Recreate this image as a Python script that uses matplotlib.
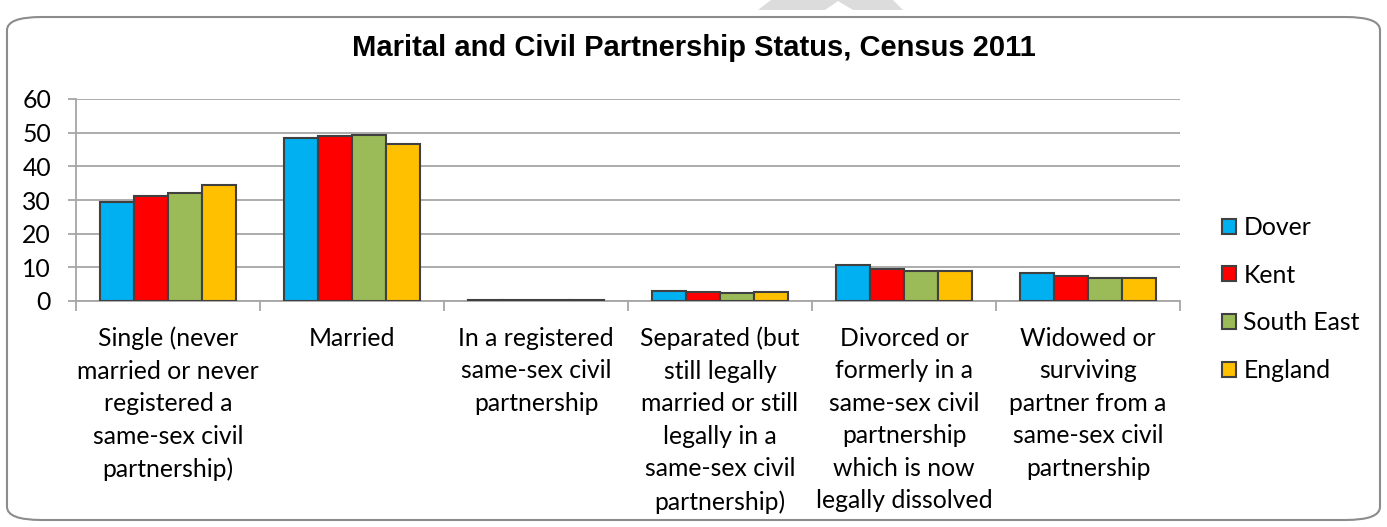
import numpy as np
import matplotlib.pyplot as plt
from matplotlib.patches import FancyBboxPatch, Polygon

categories = [
    "Single (never\nmarried or never\nregistered a\nsame-sex civil\npartnership)",
    "Married",
    "In a registered\nsame-sex civil\npartnership",
    "Separated (but\nstill legally\nmarried or still\nlegally in a\nsame-sex civil\npartnership)",
    "Divorced or\nformerly in a\nsame-sex civil\npartnership\nwhich is now\nlegally dissolved",
    "Widowed or\nsurviving\npartner from a\nsame-sex civil\npartnership",
]
dover = [29.5, 48.4, 0.3, 3.0, 10.7, 8.2]
kent = [31.3, 49.0, 0.2, 2.8, 9.6, 7.3]
south_east = [32.0, 49.4, 0.2, 2.5, 9.0, 6.8]
england = [34.6, 46.6, 0.2, 2.7, 9.0, 6.9]

series = [("Dover", dover, "#00b0f0"), ("Kent", kent, "#ff0000"),
          ("South East", south_east, "#9bbb59"), ("England", england, "#ffc000")]

W, H = 1387, 527
fs = 17.8
fig = plt.figure(figsize=(W / 100, H / 100), dpi=100)
ax = fig.add_axes([76 / W, 1 - 301 / H, (1180 - 76) / W, 202 / H])

# faint watermark piece peeking over the top edge
wm = [(758, 10), (771, 0), (893, 0), (903, 10), (853, 10), (838, 1), (825, 10)]
fig.patches.append(Polygon([(px / W, 1 - py / H) for px, py in wm], closed=True,
                           transform=fig.transFigure, color="#dcdcdc", lw=0))

# rounded frame around whole chart
fig.patches.append(FancyBboxPatch((7 / W, 7 / H), 1373 / W, 503 / H,
                                  boxstyle="round,pad=0,rounding_size=0.025",
                                  transform=fig.transFigure, fill=False,
                                  edgecolor="#8c8c8c", linewidth=1.5))

x = np.arange(len(categories))
w = 0.185
for i, (name, vals, col) in enumerate(series):
    ax.bar(x + (i - 1.5) * w, vals, w, color=col, edgecolor="#404040",
           linewidth=1.5, label=name, zorder=3)

ax.set_xlim(-0.5, len(categories) - 0.5)
ax.set_ylim(0, 60)
ax.set_yticks(range(0, 61, 10))
ax.grid(axis="y", color="#a6a6a6", linewidth=1.3, zorder=0)
for s in ["top", "right"]:
    ax.spines[s].set_visible(False)
ax.spines["left"].set_color("#a6a6a6")
ax.spines["bottom"].set_color("#a6a6a6")
ax.spines["left"].set_linewidth(1.3)
ax.spines["bottom"].set_linewidth(1.3)

ax.set_xticks(np.arange(-0.5, len(categories), 1))
ax.set_xticklabels([])
ax.set_xticks(x, minor=True)
ax.set_xticklabels(categories, minor=True, fontsize=fs, family="Lato",
                   linespacing=1.5, va="top")
ax.tick_params(axis="x", which="major", length=7, color="#a6a6a6", width=1.3)
ax.tick_params(axis="x", which="minor", length=0, pad=18.5)
ax.tick_params(axis="y", length=6, color="#a6a6a6", width=1.3, labelsize=fs, pad=12)
for lab in ax.get_yticklabels():
    lab.set_family("Lato")

fig.text(0.5, 1 - 48 / H, "Marital and Civil Partnership Status, Census 2011",
         ha="center", va="center", fontsize=21, fontweight="bold",
         family="Liberation Sans")

leg = ax.legend(loc="center left", bbox_to_anchor=(1222 / W, 1 - 299 / H),
                bbox_transform=fig.transFigure, frameon=False, borderaxespad=0,
                borderpad=0, prop={"family": "Lato", "size": fs}, handlelength=0.56,
                handleheight=0.56, handletextpad=0.3, labelspacing=1.0)

fig.savefig("out.png", dpi=100)
